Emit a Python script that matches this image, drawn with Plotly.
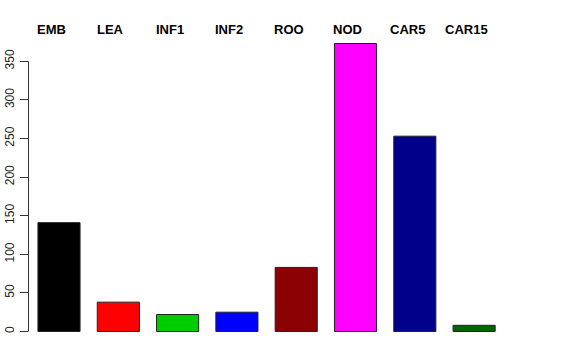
import plotly.graph_objects as go

categories = ["EMB", "LEA", "INF1", "INF2", "ROO", "NOD", "CAR5", "CAR15"]
values = [141, 38, 22, 25, 83, 373, 253, 8]
colors = ["#000000", "#FF0000", "#00CD00", "#0000FF", "#8B0000", "#FF00FF", "#00008B", "#006400"]
yticks = [0, 50, 100, 150, 200, 250, 300, 350]

x_idx = list(range(len(categories)))

fig = go.Figure()
fig.add_trace(go.Bar(
    x=x_idx, y=values,
    marker=dict(color=colors, line=dict(color="#222222", width=1)),
    width=0.71,
    hoverinfo="skip",
))

# y axis line from 0 to 350 only (R style)
fig.add_shape(type="line", xref="paper", yref="y", x0=-0.001, x1=-0.001, y0=yticks[0], y1=yticks[-1],
              line=dict(color="#333333", width=1), layer="above")

for i, c in enumerate(categories):
    fig.add_annotation(x=i - 0.127, y=1, xref="x", yref="paper", text="<b>%s</b>" % c,
                       showarrow=False, xanchor="center", yanchor="middle", yshift=3,
                       font=dict(family="Liberation Sans, Arial, sans-serif", size=13, color="#000000"))

fig.update_layout(
    width=576, height=360,
    margin=dict(l=29, r=73, t=32, b=17, autoexpand=False),
    paper_bgcolor="white", plot_bgcolor="white",
    showlegend=False,
    xaxis=dict(range=[-0.506, 7.487], showticklabels=False, showgrid=False, zeroline=False,
               showline=False, ticks="", fixedrange=True, automargin=False),
    yaxis=dict(range=[-14.9, 387.9], tickvals=yticks, ticktext=[str(v) for v in yticks],
               tickangle=-90, ticks="outside", ticklen=8, tickcolor="#333333",
               showgrid=False, zeroline=False, showline=False, automargin=False, fixedrange=True,
               tickfont=dict(family="Liberation Sans, Arial, sans-serif", size=12, color="#222222"),
               ticklabelstandoff=1),
)

fig.write_html("out.html", config={"displayModeBar": False},
               post_script="document.body.style.margin='0';document.body.style.overflow='hidden';")
